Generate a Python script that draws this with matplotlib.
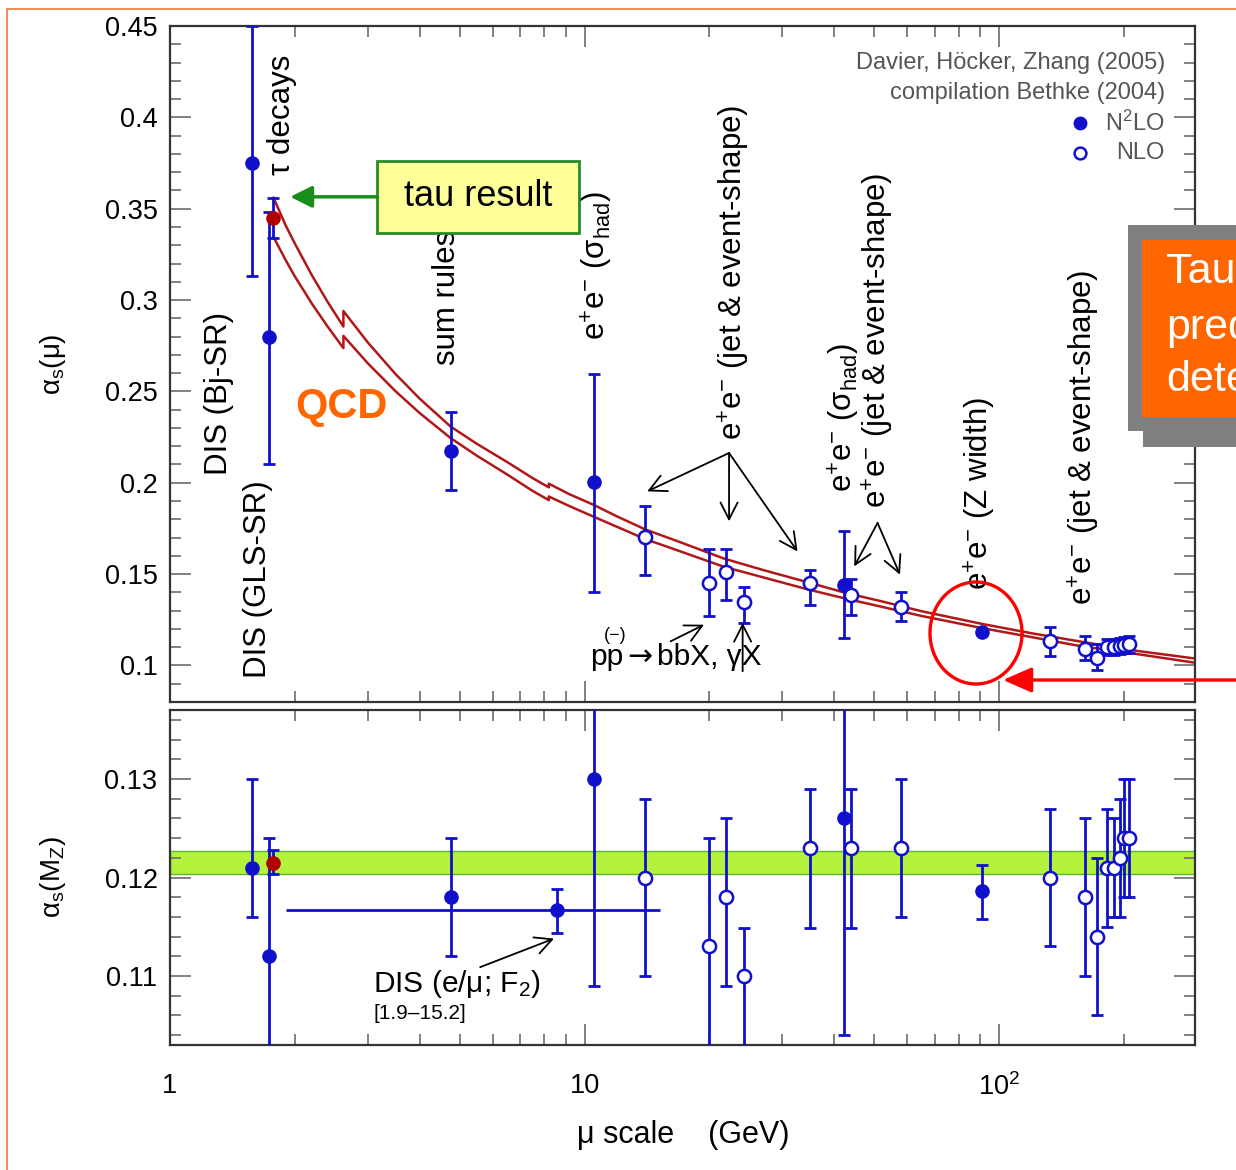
import matplotlib
matplotlib.use('Agg')
import matplotlib.pyplot as plt
import numpy as np
from matplotlib.patches import Rectangle, Ellipse, FancyArrowPatch
from matplotlib.ticker import FixedLocator, FuncFormatter, NullFormatter, MultipleLocator

plt.rcParams['font.family'] = ['Liberation Sans', 'DejaVu Sans']
plt.rcParams['mathtext.fontset'] = 'custom'
plt.rcParams['mathtext.rm'] = 'Liberation Sans'
plt.rcParams['mathtext.it'] = 'Liberation Sans'
plt.rcParams['mathtext.bf'] = 'Liberation Sans:bold'

# ---------------- data ----------------
# measurements (top panel: alpha_s(mu))
mu_meas = [1.58, 1.73, 4.75, 10.52, 14.0, 20.0, 22.0, 24.2, 35.0, 42.2, 44.0, 58.0,
           91.2, 133.0, 161.0, 172.0, 182.0, 189.0, 196.0, 200.0, 206.0]
filled_meas = [True, True, True, True, False, False, False, False, False, True, False, False,
               True, False, False, False, False, False, False, False, False]
alpha_mu = [0.375, 0.280, 0.2175, 0.2005, 0.1705, 0.1453, 0.1513, 0.1349, 0.1453, 0.1442, 0.1387, 0.1318,
            0.1183, 0.1132, 0.1090, 0.1041, 0.1100, 0.1100, 0.1105, 0.1112, 0.1115]
alpha_mu_hi = [0.450, 0.348, 0.239, 0.2596, 0.1874, 0.164, 0.164, 0.1431, 0.1522, 0.1734, 0.1473, 0.1400,
               0.1183, 0.1213, 0.1163, 0.1115, 0.1145, 0.1145, 0.1150, 0.1157, 0.1160]
alpha_mu_lo = [0.313, 0.2104, 0.196, 0.1404, 0.1497, 0.1273, 0.136, 0.1234, 0.1329, 0.1152, 0.1278, 0.1241,
               0.1183, 0.1054, 0.1031, 0.0975, 0.1055, 0.1055, 0.1060, 0.1067, 0.1070]

# bottom panel: alpha_s(MZ)
alpha_mz = [0.121, 0.112, 0.118, 0.130, 0.120, 0.113, 0.118, 0.110, 0.123, 0.126, 0.123, 0.123,
            0.1186, 0.120, 0.118, 0.114, 0.121, 0.121, 0.122, 0.124, 0.124]
alpha_mz_hi = [0.130, 0.124, 0.124, 0.150, 0.128, 0.124, 0.126, 0.1149, 0.129, 0.150, 0.129, 0.130,
               0.1213, 0.127, 0.126, 0.122, 0.127, 0.126, 0.128, 0.130, 0.130]
alpha_mz_lo = [0.116, 0.100, 0.112, 0.109, 0.110, 0.100, 0.109, 0.100, 0.1149, 0.104, 0.1149, 0.116,
               0.1158, 0.113, 0.110, 0.106, 0.115, 0.116, 0.116, 0.118, 0.118]

# DIS (e/mu; F2) point, bottom panel only
f2_mu, f2_val, f2_lo, f2_hi = 8.6, 0.1167, 0.1144, 0.1188
f2_mu_range = [1.9, 15.2]

# tau result
tau_mu = 1.777
tau_alpha, tau_alpha_lo, tau_alpha_hi = 0.345, 0.334, 0.356
tau_mz, tau_mz_lo, tau_mz_hi = 0.1215, 0.1204, 0.1228
band_mz = [0.1204, 0.1227]

# QCD running band (nf=3, nf=4, nf=5 segments)
qcd_mu = [1.777, 1.9, 2.0, 2.2, 2.4, 2.62,
          2.62, 3.0, 3.5, 4.0, 4.75, 5.5, 6.5, 7.5, 8.2,
          8.2, 9.2, 10.5, 12, 14, 17, 21.7, 27, 34.6, 43, 51.9, 65, 91.19, 120, 158, 210, 297]
qcd_upper = [0.356, 0.341, 0.331, 0.3135, 0.299, 0.2855,
             0.294, 0.2768, 0.2595, 0.2461, 0.2308, 0.2213, 0.2114, 0.2025, 0.1975,
             0.1995, 0.1937, 0.1880, 0.1815, 0.1745, 0.1675, 0.1585, 0.1522, 0.1455, 0.1395, 0.1352,
             0.1297, 0.1227, 0.1176, 0.1130, 0.1083, 0.1038]
qcd_lower = [0.3345, 0.322, 0.313, 0.298, 0.2855, 0.2737,
             0.2804, 0.2654, 0.2501, 0.2382, 0.2245, 0.2148, 0.2046, 0.1955, 0.1905,
             0.1925, 0.1872, 0.1815, 0.1758, 0.1692, 0.1625, 0.1540, 0.1482, 0.1416, 0.1364, 0.1322,
             0.1271, 0.1204, 0.1155, 0.1105, 0.1066, 0.1015]

# rotated labels: text, mu (centre), alpha (bottom)
rot_labels = [
    ('DIS (Bj-SR)', 1.313, 0.2044),
    ('DIS (GLS-SR)', 1.632, 0.0934),
    ('τ decays', 1.865, 0.3685),
    ('sum rules', 4.667, 0.2646),
    ('e$^\\mathregular{+}$e$^\\mathregular{-}$ (σ$_\\mathregular{had}$)', 10.69, 0.2782),
    ('e$^\\mathregular{+}$e$^\\mathregular{-}$ (jet & event-shape)', 22.9, 0.2235),
    ('e$^\\mathregular{+}$e$^\\mathregular{-}$ (σ$_\\mathregular{had}$)', 42.2, 0.1951),
    ('e$^\\mathregular{+}$e$^\\mathregular{-}$ (jet & event-shape)', 51.0, 0.1863),
    ('e$^\\mathregular{+}$e$^\\mathregular{-}$ (Z width)', 89.9, 0.1415),
    ('e$^\\mathregular{+}$e$^\\mathregular{-}$ (jet & event-shape)', 160.4, 0.1333),
]

# annotation arrows in top panel: (origin, tip)
top_arrows = [
    ((22.32, 0.2163), (14.17, 0.1953)),
    ((22.32, 0.2163), (22.32, 0.1789)),
    ((22.32, 0.2163), (32.65, 0.1624)),
    ((50.93, 0.178), (44.73, 0.1542)),
    ((50.93, 0.178), (57.68, 0.1497)),
    ((16.13, 0.1132), (19.42, 0.1223)),
    ((24.07, 0.0968), (24.07, 0.1233)),
]

x_major = [1, 10, 100]
x_major_labels = ['1', '10', '10$^\\mathregular{2}$']
x_minor = [2, 3, 4, 5, 6, 7, 8, 9, 20, 30, 40, 50, 60, 70, 80, 90, 200]

BLUE = '#1010cc'
DARKRED = '#b01818'

# ---------------- figure ----------------
W, H = 1236, 1170
fig = plt.figure(figsize=(W / 100, H / 100), dpi=100)
fig.patch.set_facecolor('white')


def fx(px):
    return px / W


def fy(py):
    return 1 - py / H


ax1 = fig.add_axes([fx(170), fy(702), fx(1195) - fx(170), fy(26) - fy(702)])
ax2 = fig.add_axes([fx(170), fy(1045), fx(1195) - fx(170), fy(710) - fy(1045)])

for ax in (ax1, ax2):
    ax.set_xscale('log')
    ax.set_xlim(1, 297)
    ax.xaxis.set_major_locator(FixedLocator(x_major))
    ax.xaxis.set_minor_locator(FixedLocator(x_minor))
    ax.xaxis.set_minor_formatter(NullFormatter())
    ax.tick_params(which='both', direction='in', top=True, right=True,
                   color='#777777', width=1.3, labelsize=19.5, pad=9)
    ax.tick_params(which='major', length=15)
    ax.tick_params(which='minor', length=8)
    for s in ax.spines.values():
        s.set_linewidth(1.6)
        s.set_color('#333333')

ax1.set_ylim(0.08, 0.45)
ax1.yaxis.set_major_locator(MultipleLocator(0.05))
ax1.yaxis.set_minor_locator(MultipleLocator(0.01))
ax1.yaxis.set_major_formatter(FuncFormatter(lambda v, p: '%g' % round(v, 3)))
ax1.xaxis.set_major_formatter(NullFormatter())

ax2.set_ylim(0.103, 0.137)
ax2.yaxis.set_major_locator(MultipleLocator(0.01))
ax2.yaxis.set_minor_locator(MultipleLocator(0.002))
ax2.yaxis.set_major_formatter(FuncFormatter(lambda v, p: '%g' % round(v, 3)))
ax2.set_xticklabels(x_major_labels)
ax2.tick_params(axis='x', which='major', pad=20, labelsize=19.5)

ax1.set_ylabel('α$_\\mathregular{s}$(μ)', fontsize=20)
ax1.yaxis.set_label_coords(-0.0995, 0.5)
ax2.set_ylabel('α$_\\mathregular{s}$(M$_\\mathregular{Z}$)', fontsize=20)
ax2.yaxis.set_label_coords(-0.0995, 0.5)
fig.text(fx(683), fy(1135), 'μ scale    (GeV)', ha='center', va='center', fontsize=22)

# ---------------- top panel ----------------
ax1.plot(qcd_mu, qcd_upper, color=DARKRED, lw=1.8, zorder=2)
ax1.plot(qcd_mu, qcd_lower, color=DARKRED, lw=1.8, zorder=2)


def draw_points(ax, mu, val, lo, hi, filled):
    mu = np.asarray(mu); val = np.asarray(val)
    lo = np.asarray(lo); hi = np.asarray(hi)
    filled = np.asarray(filled)
    yerr = np.vstack([val - lo, hi - val])
    ax.errorbar(mu, val, yerr=yerr, fmt='none', ecolor=BLUE, elinewidth=2.0,
                capsize=4.5, capthick=2.0, zorder=3)
    ax.plot(mu[filled], val[filled], 'o', color=BLUE, ms=9.5, zorder=4, ls='none')
    ax.plot(mu[~filled], val[~filled], 'o', mfc='white', mec=BLUE, mew=1.8, ms=9.5,
            zorder=4, ls='none')


draw_points(ax1, mu_meas, alpha_mu, alpha_mu_lo, alpha_mu_hi, filled_meas)
ax1.errorbar([tau_mu], [tau_alpha], yerr=[[tau_alpha - tau_alpha_lo], [tau_alpha_hi - tau_alpha]],
             fmt='o', color='#b00000', ms=9.5, ecolor=BLUE, elinewidth=2.0, capsize=4.5,
             capthick=2.0, zorder=5)

for txt, m, a in rot_labels:
    ax1.text(m, a, txt, rotation=90, ha='center', va='bottom', fontsize=22.5, zorder=3)

ax1.text(2.588, 0.2416, 'QCD', color='#ff6600', fontsize=30, fontweight='bold',
         ha='center', va='center')

for (o, t) in top_arrows:
    ax1.annotate('', xy=t, xytext=o,
                 arrowprops=dict(arrowstyle='->,head_length=0.55,head_width=0.28',
                                 mutation_scale=22, color='black', lw=1.3,
                                 shrinkA=0, shrinkB=0))

# pp-bar -> b b-bar X, gamma X label (pieces)
ax1.text(10.34, 0.1005, 'pp', fontsize=21.5, ha='left', va='baseline')
ax1.text(12.70, 0.1005, '→', fontsize=21.5, ha='left', va='baseline', family=['DejaVu Sans'])
ax1.text(14.93, 0.1005, 'bbX, γX', fontsize=21.5, ha='left', va='baseline')
ax1.text(11.88, 0.1162, '(−)', fontsize=13, ha='center', va='center')

# tau result box
box_x0, box_x1, box_y0, box_y1 = 3.162, 9.672, 0.3368, 0.3762
ax1.add_patch(Rectangle((box_x0, box_y0), box_x1 - box_x0, box_y1 - box_y0,
                        facecolor='#ffff99', edgecolor='#2a8a2a', lw=2, zorder=6))
ax1.text(np.sqrt(box_x0 * box_x1), (box_y0 + box_y1) / 2, 'tau result', fontsize=26,
         ha='center', va='center', zorder=7)
ax1.annotate('', xy=(1.95, 0.3565), xytext=(box_x0, 0.3565),
             arrowprops=dict(arrowstyle='-|>,head_length=0.6,head_width=0.3',
                             mutation_scale=22, color='#1a8c1a', lw=2.5,
                             shrinkA=0, shrinkB=0), zorder=6)

# legend-like annotations
ax1.text(0.9707, 0.9453, 'Davier, Höcker, Zhang (2005)', transform=ax1.transAxes,
         ha='right', va='center', fontsize=17, color='#555555')
ax1.text(0.9707, 0.9009, 'compilation Bethke (2004)', transform=ax1.transAxes,
         ha='right', va='center', fontsize=17, color='#555555')
ax1.plot([0.8878], [0.8565], 'o', color=BLUE, ms=9, transform=ax1.transAxes, clip_on=False)
ax1.plot([0.8878], [0.8121], 'o', mfc='white', mec=BLUE, mew=1.8, ms=8.5,
         transform=ax1.transAxes, clip_on=False)
ax1.text(0.9707, 0.8565, 'N$^\\mathregular{2}$LO', transform=ax1.transAxes,
         ha='right', va='center', fontsize=17, color='#555555')
ax1.text(0.9707, 0.8121, 'NLO', transform=ax1.transAxes,
         ha='right', va='center', fontsize=17, color='#555555')

# ---------------- bottom panel ----------------
ax2.axhspan(band_mz[0], band_mz[1], facecolor='#b4f23c', edgecolor='#5cb82c', lw=1, zorder=1)
draw_points(ax2, mu_meas, alpha_mz, alpha_mz_lo, alpha_mz_hi, filled_meas)
ax2.errorbar([f2_mu], [f2_val], xerr=[[f2_mu - f2_mu_range[0]], [f2_mu_range[1] - f2_mu]],
             fmt='none', ecolor=BLUE, elinewidth=2.0, capsize=0, zorder=3)
ax2.errorbar([f2_mu], [f2_val], yerr=[[f2_val - f2_lo], [f2_hi - f2_val]],
             fmt='o', color=BLUE, ms=9.5, ecolor=BLUE, elinewidth=2.0, capsize=4.5,
             capthick=2.0, zorder=4)
ax2.errorbar([tau_mu], [tau_mz], yerr=[[tau_mz - tau_mz_lo], [tau_mz_hi - tau_mz]],
             fmt='o', color='#b00000', ms=9.5, ecolor=BLUE, elinewidth=2.0, capsize=4.5,
             capthick=2.0, zorder=5)

ax2.text(3.093, 0.1084, 'DIS (e/μ; F$_\\mathregular{2}$)', fontsize=21.5, ha='left', va='baseline')
ax2.text(3.093, 0.1056, '[1.9–15.2]', fontsize=15, ha='left', va='baseline')
ax2.annotate('', xy=(8.44, 0.1138), xytext=(5.60, 0.1109),
             arrowprops=dict(arrowstyle='->,head_length=0.55,head_width=0.28',
                             mutation_scale=22, color='black', lw=1.3,
                             shrinkA=0, shrinkB=0))

# ---------------- slide overlays ----------------
fig.add_artist(Rectangle((fx(7), -0.02), 1.1, fy(9) + 0.02, transform=fig.transFigure,
                         fill=False, edgecolor='#f0783c', lw=1.2, zorder=0))

fig.add_artist(Rectangle((fx(1143), fy(447)), 1.0, fy(240) - fy(447), transform=fig.transFigure,
                         facecolor='#808080', edgecolor='none', zorder=3))
fig.add_artist(Rectangle((fx(1128), fy(431)), 1.0, fy(225) - fy(431), transform=fig.transFigure,
                         facecolor='#808080', edgecolor='none', zorder=3))
fig.add_artist(Rectangle((fx(1142), fy(417)), 1.0, fy(240) - fy(417), transform=fig.transFigure,
                         facecolor='#ff6600', edgecolor='none', zorder=4))
fig.text(fx(1166), fy(272), 'Tau', color='white', fontsize=31, ha='left', va='center', zorder=5)
fig.text(fx(1166), fy(328), 'pred', color='white', fontsize=31, ha='left', va='center', zorder=5)
fig.text(fx(1166), fy(380), 'dete', color='white', fontsize=31, ha='left', va='center', zorder=5)

fig.add_artist(Ellipse((fx(976), fy(633)), 92 / W, 102 / H, transform=fig.transFigure,
                       fill=False, edgecolor='#ff0000', lw=2.4, zorder=5))
fig.add_artist(FancyArrowPatch((fx(1240), fy(680)), (fx(1003), fy(680)), transform=fig.transFigure,
                               arrowstyle='-|>,head_length=0.8,head_width=0.35', mutation_scale=22,
                               color='#ff0000', lw=2.4, shrinkA=0, shrinkB=0, zorder=5))

fig.savefig('out.png', dpi=100)
